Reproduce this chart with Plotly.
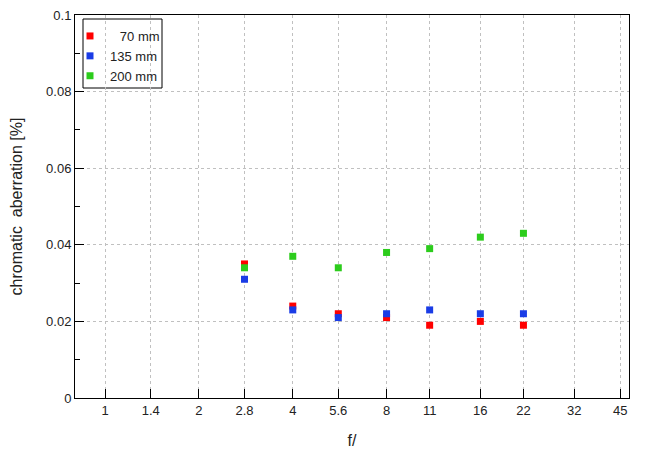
import numpy as np
import plotly.graph_objects as go

# f-stops on the x axis
fstops = [1, 1.4, 2, 2.8, 4, 5.6, 8, 11, 16, 22, 32, 45]
fstop_labels = ["1", "1.4", "2", "2.8", "4", "5.6", "8", "11", "16", "22", "32", "45"]

# measured apertures
aperture = [2.8, 4, 5.6, 8, 11, 16, 22]
ca_70 = [0.035, 0.024, 0.022, 0.021, 0.019, 0.020, 0.019]
ca_135 = [0.031, 0.023, 0.021, 0.022, 0.023, 0.022, 0.022]
ca_200 = [0.034, 0.037, 0.034, 0.038, 0.039, 0.042, 0.043]

series = [
    ("\u2007\u200970 mm", ca_70, "#ff0000"),
    ("135 mm", ca_135, "#1a3ce6"),
    ("200 mm", ca_200, "#2ccc1c"),
]

# page body has an 8px margin, so the figure is drawn 8px in from the corner
OFF = 8
W, H = 650 - OFF, 450 - OFF
L, R, T, B = 75 - OFF, 21, 15 - OFF, 52
pw, ph = W - L - R, H - T - B

def px_x(x):
    return (x - OFF - L) / pw

def px_y(y):
    return (H - B - (y - OFF)) / ph

fig = go.Figure()
for name, vals, col in series:
    fig.add_trace(go.Scatter(
        x=aperture, y=vals, mode="markers", name=name,
        marker=dict(symbol="square", size=7, color=col, line=dict(width=0)),
    ))

# legend frame
fig.add_shape(type="rect", xref="paper", yref="paper",
              x0=px_x(83), x1=px_x(162), y0=px_y(88), y1=px_y(19),
              line=dict(color="black", width=1), fillcolor="white", layer="below")

fig.update_layout(
    width=W, height=H,
    margin=dict(l=L, r=R, t=T, b=B),
    paper_bgcolor="white", plot_bgcolor="white",
    font=dict(family="Liberation Sans, Arial, sans-serif", size=13, color="#222"),
    showlegend=True,
    legend=dict(
        x=px_x(70), y=px_y(21), xanchor="left", yanchor="top",
        borderwidth=0, bgcolor="rgba(0,0,0,0)",
        font=dict(size=13), itemwidth=30, tracegroupgap=0,
    ),
)

fig.update_xaxes(
    type="log", range=[np.log10(0.8), np.log10(48)],
    tickvals=fstops, ticktext=fstop_labels,
    ticks="inside", ticklen=9, tickcolor="black",
    showline=True, linecolor="black", linewidth=1, mirror=True,
    showgrid=True, gridcolor="#c0c0c0", griddash="dot", gridwidth=1,
    zeroline=False, automargin=False, ticklabeloverflow="allow",
    title=dict(text="f/", standoff=18),
)
fig.update_yaxes(
    range=[0, 0.1], dtick=0.02, tick0=0,
    ticks="inside", ticklen=9, tickcolor="black",
    minor=dict(dtick=0.01, ticks="inside", ticklen=5, tickcolor="black", showgrid=False),
    showline=True, linecolor="black", linewidth=1, mirror=True,
    showgrid=True, gridcolor="#c0c0c0", griddash="dot", gridwidth=1,
    zeroline=False, automargin=False, ticklabeloverflow="allow",
    title=dict(text="chromatic  aberration [%]", standoff=26),
)

fig.write_html("out.html")
